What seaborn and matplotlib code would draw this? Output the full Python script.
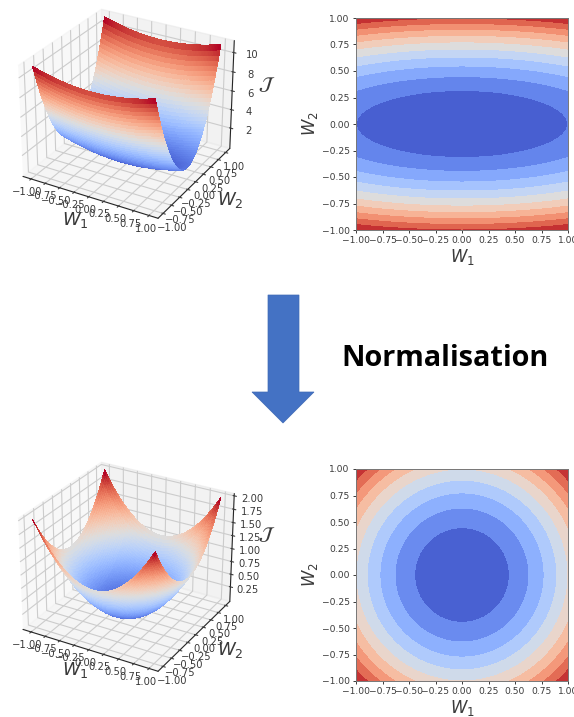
import numpy as np
import matplotlib
matplotlib.use('Agg')
import matplotlib.pyplot as plt
from matplotlib.patches import Polygon
import seaborn as sns

# polowa osi w (0..1 co 0.025), druga polowa to odbicie
w_half = [0.000, 0.025, 0.050, 0.075, 0.100, 0.125, 0.150, 0.175, 0.200, 0.225,
          0.250, 0.275, 0.300, 0.325, 0.350, 0.375, 0.400, 0.425, 0.450, 0.475,
          0.500, 0.525, 0.550, 0.575, 0.600, 0.625, 0.650, 0.675, 0.700, 0.725,
          0.750, 0.775, 0.800, 0.825, 0.850, 0.875, 0.900, 0.925, 0.950, 0.975, 1.000]

# koszt wzdluz w1 (gora i dol taki sam)
cost_w1_half = [0.000, 0.001, 0.003, 0.006, 0.010, 0.016, 0.023, 0.031, 0.040, 0.051,
                0.063, 0.076, 0.090, 0.106, 0.123, 0.141, 0.160, 0.181, 0.203, 0.226,
                0.250, 0.276, 0.303, 0.331, 0.360, 0.391, 0.423, 0.456, 0.490, 0.526,
                0.563, 0.601, 0.640, 0.681, 0.723, 0.766, 0.810, 0.856, 0.903, 0.951, 1.000]

# koszt wzdluz w2, wykres gorny (przed normalizacja)
cost_w2_top_half = [0.00, 0.01, 0.03, 0.06, 0.10, 0.16, 0.23, 0.31, 0.40, 0.51,
                    0.63, 0.76, 0.90, 1.06, 1.23, 1.41, 1.60, 1.81, 2.03, 2.26,
                    2.50, 2.76, 3.03, 3.31, 3.60, 3.91, 4.23, 4.56, 4.90, 5.26,
                    5.63, 6.01, 6.40, 6.81, 7.23, 7.66, 8.10, 8.56, 9.03, 9.51, 10.00]

# wykres dolny (po normalizacji)
cost_w2_bottom_half = [0.000, 0.001, 0.003, 0.006, 0.010, 0.016, 0.023, 0.031, 0.040, 0.051,
                       0.063, 0.076, 0.090, 0.106, 0.123, 0.141, 0.160, 0.181, 0.203, 0.226,
                       0.250, 0.276, 0.303, 0.331, 0.360, 0.391, 0.423, 0.456, 0.490, 0.526,
                       0.563, 0.601, 0.640, 0.681, 0.723, 0.766, 0.810, 0.856, 0.903, 0.951, 1.000]

levels_top = [0, 1, 2, 3, 4, 5, 6, 7, 8, 9, 10, 11]
levels_bottom = [0, 0.2, 0.4, 0.6, 0.8, 1.0, 1.2, 1.4, 1.6, 1.8, 2.0]
ticks_w = [-1.00, -0.75, -0.50, -0.25, 0.00, 0.25, 0.50, 0.75, 1.00]
ticks_z_top = [2, 4, 6, 8, 10]
ticks_z_bottom = [0.25, 0.50, 0.75, 1.00, 1.25, 1.50, 1.75, 2.00]

sns.set_style('ticks')
plt.rcParams['font.family'] = ['DejaVu Sans']
plt.rcParams['mathtext.fontset'] = 'dejavusans'
cmap = sns.color_palette('coolwarm', as_cmap=True)
TXT = '#3a3a3a'
W, H = 574, 717

fig = plt.figure(figsize=(W / 100, H / 100), dpi=100)


def mirror(half):
    half = np.array(half)
    return np.concatenate([half[:0:-1], half])


def box(x0, y0, x1, y1):
    # piksele obrazka -> ulamki figury
    return [x0 / W, 1 - y1 / H, (x1 - x0) / W, (y1 - y0) / H]


def fmt(t):
    return ('%.2f' % t).replace('-', '\u2212')


def label(x, y, s, size):
    fig.text(x / W, 1 - y / H, s, fontsize=size, ha='center', va='center', color=TXT)


w_axis = np.concatenate([-np.array(w_half)[:0:-1], np.array(w_half)])


def surface(pos, j2, zticks, zfmt, dy):
    ax = fig.add_axes(box(*pos), projection='3d')
    ax.patch.set_alpha(0)
    ax.view_init(elev=28, azim=-60)
    ax.set_box_aspect((4, 4, 3.2))
    X, Y = np.meshgrid(w_axis, w_axis)
    Z = np.add.outer(mirror(j2), mirror(cost_w1_half))
    ax.plot_surface(X, Y, Z, cmap=cmap, rstride=1, cstride=1, linewidth=0, antialiased=False)
    ax.grid(True)
    ax.set_xticks(ticks_w)
    ax.set_yticks(ticks_w)
    ax.set_zticks(zticks)
    ax.set_xticklabels([fmt(t) for t in ticks_w], ha='center')
    ax.set_yticklabels([fmt(t) for t in ticks_w], ha='center')
    ax.set_zticklabels([zfmt % t for t in zticks])
    ax.tick_params(axis='x', labelsize=7.2, pad=-4, colors=TXT)
    ax.tick_params(axis='y', labelsize=7.2, pad=-2, colors=TXT)
    ax.tick_params(axis='z', labelsize=7.2, pad=0, colors=TXT)
    # podpisy osi 3d stawiam recznie, labelpad za bardzo skacze
    label(75, 220 + dy, '$W_1$', 13)
    label(230, 200 + dy, '$W_2$', 13)
    label(267, 85 + dy, r'$\mathcal{J}$', 14)
    return ax


def contour(pos, j2, levels):
    ax = fig.add_axes(box(*pos))
    Z = np.add.outer(mirror(j2), mirror(cost_w1_half))
    ax.contourf(w_axis, w_axis, Z, levels=levels, cmap=cmap)
    ax.set_xticks(ticks_w)
    ax.set_yticks(ticks_w)
    ax.tick_params(labelsize=6.6, length=2.5, width=0.7, pad=2, colors=TXT)
    for s in ax.spines.values():
        s.set_linewidth(0.7)
        s.set_color('#777777')
    ax.set_xlabel('$W_1$', fontsize=12, labelpad=1, color=TXT)
    ax.set_ylabel('$W_2$', fontsize=12, labelpad=1, color=TXT)
    return ax


surface((-17, -10, 267, 234), cost_w2_top_half, ticks_z_top, '%d', 0)
contour((356, 18, 568, 230), cost_w2_top_half, levels_top)
surface((-17, 443, 267, 687), cost_w2_bottom_half, ticks_z_bottom, '%.2f', 450)
contour((356, 469, 568, 681), cost_w2_bottom_half, levels_bottom)

# strzalka
arrow_px = [(268, 295), (299, 295), (299, 392), (314, 392), (283, 423), (252, 392), (268, 392)]
fig.add_artist(Polygon([(x / W, 1 - y / H) for x, y in arrow_px], closed=True,
                       transform=fig.transFigure, facecolor='#4472C4', edgecolor='#3f6ab5', linewidth=0.5))

fig.text(445 / W, 1 - 358 / H, 'Normalisation', ha='center', va='center', fontsize=20.8,
         fontweight='bold', family='Open Sans', color='#000000')

fig.savefig('out.png', dpi=100)
